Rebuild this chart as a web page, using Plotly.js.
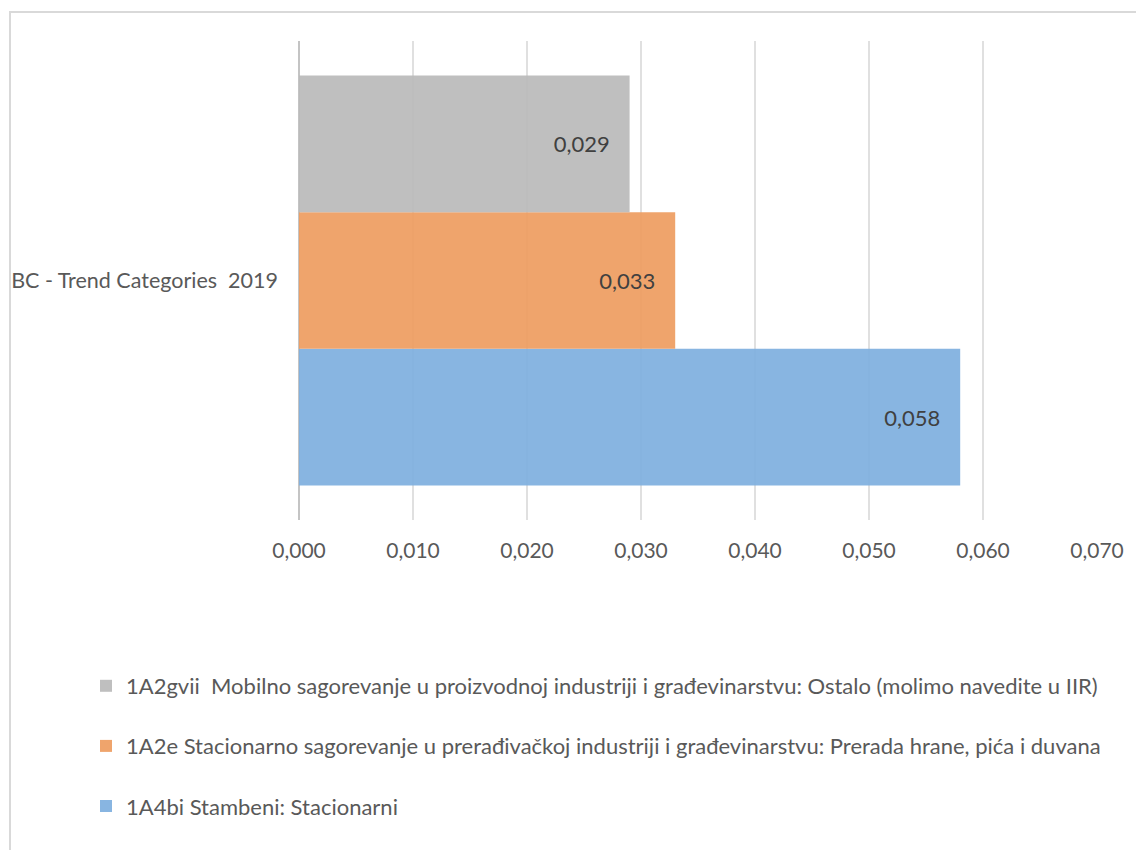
<!DOCTYPE html>
<html>
<head>
<meta charset="utf-8">
<script src="https://cdn.plot.ly/plotly-3.0.1.min.js"></script>
<style>
  html, body { margin: 0; padding: 0; background: #ffffff; }
  #chart { width: 1136px; height: 850px; }
</style>
</head>
<body>
<div id="chart"></div>
<script>
// Black carbon emissions by trend category, 2019
const categories = ['BC - Trend Categories\u00a0 2019'];

const seriesNames = [
  '1A4bi Stambeni: Stacionarni',
  '1A2e Stacionarno sagorevanje u prerađivačkoj industriji i građevinarstvu: Prerada hrane, pića i duvana',
  '1A2gvii\u00a0 Mobilno sagorevanje u proizvodnoj industriji i građevinarstvu: Ostalo (molimo navedite u IIR)'
];
const stambeni = [0.058];
const preradaHrane = [0.033];
const mobilnoOstalo = [0.029];

const tickValues = [0, 0.01, 0.02, 0.03, 0.04, 0.05, 0.06, 0.07];
const tickLabels = ['0,000', '0,010', '0,020', '0,030', '0,040', '0,050', '0,060', '0,070'];

const seriesValues = [stambeni, preradaHrane, mobilnoOstalo];
const seriesColors = ['rgba(126,175,222,0.92)', 'rgba(238,156,96,0.92)', 'rgba(186,186,186,0.92)'];
// legend lists the top bar first
const legendRanks = [3, 2, 1];

const FONT = 'Lato, "Liberation Sans", sans-serif';
const fmt = v => v.toFixed(3).replace('.', ',');

const traces = seriesValues.map((vals, i) => ({
  type: 'bar',
  orientation: 'h',
  name: seriesNames[i],
  legendgroup: 'g' + i,
  legendrank: legendRanks[i],
  y: categories,
  x: vals,
  marker: { color: seriesColors[i], line: { width: 0 } },
  text: vals.map(v => fmt(v) + '\u00a0\u00a0\u00a0'),
  textposition: 'inside',
  insidetextanchor: 'end',
  textangle: 0,
  insidetextfont: { family: FONT, size: 22, color: '#404040' },
  cliponaxis: false,
  hoverinfo: 'x+name'
}));

const L = 299, R = 1097, T = 41, B = 520, W = 1136, H = 850;
const pw = R - L, ph = B - T;

const layout = {
  width: W,
  height: H,
  margin: { l: L, r: W - R, t: T, b: H - B, pad: 0 },
  paper_bgcolor: '#ffffff',
  plot_bgcolor: '#ffffff',
  font: { family: FONT, size: 20, color: '#595959' },
  barmode: 'group',
  bargap: 0.144,
  bargroupgap: 0,
  showlegend: true,
  xaxis: {
    range: [0, 0.07],
    tickvals: tickValues,
    ticktext: tickLabels,
    showgrid: true,
    gridcolor: '#E0E0E0',
    gridwidth: 2,
    zeroline: true,
    zerolinecolor: '#C4C4C4',
    zerolinewidth: 2,
    showline: false,
    ticks: '',
    ticklabelstandoff: 16,
    tickfont: { family: FONT, size: 21, color: '#595959' },
    fixedrange: true
  },
  yaxis: {
    type: 'category',
    showgrid: false,
    zeroline: false,
    showline: false,
    ticks: '',
    ticklabelstandoff: 20,
    tickfont: { family: FONT, size: 21.5, color: '#595959' },
    fixedrange: true
  },
  legend: {
    orientation: 'v',
    traceorder: 'grouped',
    tracegroupgap: 28.5,
    x: (86 - L) / pw,
    xanchor: 'left',
    y: (B - 665) / ph,
    yanchor: 'top',
    font: { family: FONT, size: 22, color: '#595959' },
    bgcolor: 'rgba(0,0,0,0)',
    borderwidth: 0
  },
  shapes: [{
    type: 'rect',
    xref: 'paper',
    yref: 'paper',
    x0: (10 - L) / pw,
    x1: (W + 10 - L) / pw,
    y0: -(H + 10 - B) / ph,
    y1: 1 + (T - 12) / ph,
    line: { color: '#D9D9D9', width: 2 },
    fillcolor: 'rgba(0,0,0,0)',
    layer: 'below'
  }]
};

Plotly.newPlot('chart', traces, layout, { displayModeBar: false, staticPlot: true });
</script>
</body>
</html>
